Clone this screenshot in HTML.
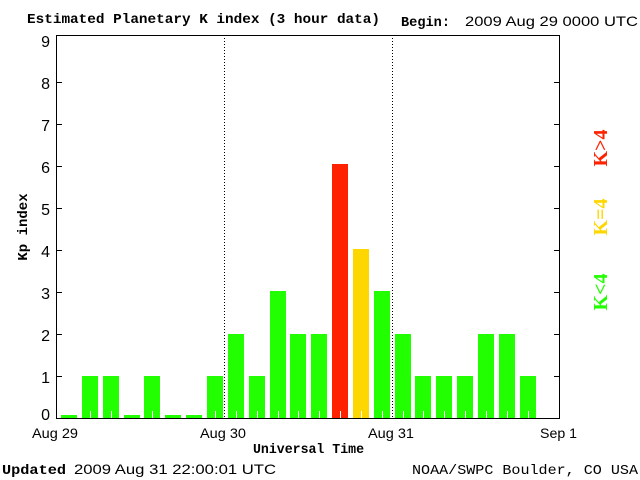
<!DOCTYPE html>
<html><head><style>body{margin:0;background:#fff}svg{display:block}</style></head><body>
<svg width="640" height="480" xmlns="http://www.w3.org/2000/svg">
<rect width="640" height="480" fill="#fff"/>
<g font-family="Liberation Mono, monospace" font-weight="bold" font-size="14" fill="#000">
<text x="27" y="23" textLength="353" lengthAdjust="spacingAndGlyphs">Estimated Planetary K index (3 hour data)</text>
<text x="401" y="26" textLength="49" lengthAdjust="spacingAndGlyphs">Begin:</text>
<text x="253" y="453" textLength="111" lengthAdjust="spacingAndGlyphs">Universal Time</text>
<text x="2" y="474" textLength="64" lengthAdjust="spacingAndGlyphs">Updated</text>
<text x="412" y="474" font-weight="normal" textLength="226" lengthAdjust="spacingAndGlyphs">NOAA/SWPC Boulder, CO USA</text>
<text transform="translate(27,227) rotate(-90)" text-anchor="middle">Kp index</text>
</g>
<g font-family="Liberation Sans, sans-serif" font-size="14" fill="#000">
<text x="465" y="26" textLength="173" lengthAdjust="spacingAndGlyphs">2009 Aug 29 0000 UTC</text>
<text x="74" y="474" textLength="202" lengthAdjust="spacingAndGlyphs">2009 Aug 31 22:00:01 UTC</text>
<text x="32" y="438" textLength="46" lengthAdjust="spacingAndGlyphs">Aug 29</text>
<text x="200" y="438" textLength="46" lengthAdjust="spacingAndGlyphs">Aug 30</text>
<text x="368" y="438" textLength="46" lengthAdjust="spacingAndGlyphs">Aug 31</text>
<text x="540" y="438" textLength="37" lengthAdjust="spacingAndGlyphs">Sep 1</text>
</g>
<g font-family="Liberation Sans, sans-serif" font-size="16" fill="#000" text-anchor="end">
<text x="50" y="420">0</text><text x="50" y="383">1</text><text x="50" y="341">2</text><text x="50" y="299">3</text><text x="50" y="257">4</text><text x="50" y="215">5</text><text x="50" y="173">6</text><text x="50" y="131">7</text><text x="50" y="89">8</text><text x="50" y="47">9</text>
</g>
<g fill="#22ff00">
<rect x="61" y="415" width="16" height="3"/>
<rect x="82" y="376" width="16" height="42"/>
<rect x="103" y="376" width="16" height="42"/>
<rect x="124" y="415" width="16" height="3"/>
<rect x="144" y="376" width="16" height="42"/>
<rect x="165" y="415" width="16" height="3"/>
<rect x="186" y="415" width="16" height="3"/>
<rect x="207" y="376" width="16" height="42"/>
<rect x="228" y="334" width="16" height="84"/>
<rect x="249" y="376" width="16" height="42"/>
<rect x="270" y="291" width="16" height="127"/>
<rect x="290" y="334" width="16" height="84"/>
<rect x="311" y="334" width="16" height="84"/>
<rect x="332" y="164" width="16" height="254" fill="#ff2200"/>
<rect x="353" y="249" width="16" height="169" fill="#ffd700"/>
<rect x="374" y="291" width="16" height="127"/>
<rect x="395" y="334" width="16" height="84"/>
<rect x="415" y="376" width="16" height="42"/>
<rect x="436" y="376" width="16" height="42"/>
<rect x="457" y="376" width="16" height="42"/>
<rect x="478" y="334" width="16" height="84"/>
<rect x="499" y="334" width="16" height="84"/>
<rect x="520" y="376" width="16" height="42"/>
</g>
<g stroke="#fff">
<line x1="90.5" y1="411" x2="90.5" y2="418"/><line x1="111.5" y1="411" x2="111.5" y2="418"/><line x1="152.5" y1="411" x2="152.5" y2="418"/><line x1="215.5" y1="411" x2="215.5" y2="418"/><line x1="236.5" y1="411" x2="236.5" y2="418"/><line x1="257.5" y1="411" x2="257.5" y2="418"/><line x1="278.5" y1="411" x2="278.5" y2="418"/><line x1="298.5" y1="411" x2="298.5" y2="418"/><line x1="319.5" y1="411" x2="319.5" y2="418"/><line x1="340.5" y1="411" x2="340.5" y2="418"/><line x1="361.5" y1="411" x2="361.5" y2="418"/><line x1="382.5" y1="411" x2="382.5" y2="418"/><line x1="403.5" y1="411" x2="403.5" y2="418"/><line x1="423.5" y1="411" x2="423.5" y2="418"/><line x1="444.5" y1="411" x2="444.5" y2="418"/><line x1="465.5" y1="411" x2="465.5" y2="418"/><line x1="486.5" y1="411" x2="486.5" y2="418"/><line x1="507.5" y1="411" x2="507.5" y2="418"/><line x1="528.5" y1="411" x2="528.5" y2="418"/>
</g>
<line x1="224.5" y1="35" x2="224.5" y2="418" stroke="#000" stroke-dasharray="1,2"/>
<line x1="392.5" y1="35" x2="392.5" y2="418" stroke="#000" stroke-dasharray="1,2"/>
<rect x="56.5" y="35.5" width="503" height="383" fill="none" stroke="#000"/>
<g stroke="#000">
<line x1="56" y1="376.5" x2="62" y2="376.5"/><line x1="56" y1="334.5" x2="62" y2="334.5"/><line x1="56" y1="292.5" x2="62" y2="292.5"/><line x1="56" y1="250.5" x2="62" y2="250.5"/><line x1="56" y1="208.5" x2="62" y2="208.5"/><line x1="56" y1="166.5" x2="62" y2="166.5"/><line x1="56" y1="124.5" x2="62" y2="124.5"/><line x1="56" y1="82.5" x2="62" y2="82.5"/>
<line x1="554" y1="376.5" x2="560" y2="376.5"/><line x1="554" y1="334.5" x2="560" y2="334.5"/><line x1="554" y1="292.5" x2="560" y2="292.5"/><line x1="554" y1="250.5" x2="560" y2="250.5"/><line x1="554" y1="208.5" x2="560" y2="208.5"/><line x1="554" y1="166.5" x2="560" y2="166.5"/><line x1="554" y1="124.5" x2="560" y2="124.5"/><line x1="554" y1="82.5" x2="560" y2="82.5"/>
</g>
<g font-family="Liberation Serif, serif" font-weight="bold" font-size="20" text-anchor="middle">
<text transform="translate(607,148) rotate(-90)" fill="#ff2200">K&gt;4</text>
<text transform="translate(607,217) rotate(-90)" fill="#ffd700">K=4</text>
<text transform="translate(607,292) rotate(-90)" fill="#22ff00">K&lt;4</text>
</g>
</svg>
</body></html>
